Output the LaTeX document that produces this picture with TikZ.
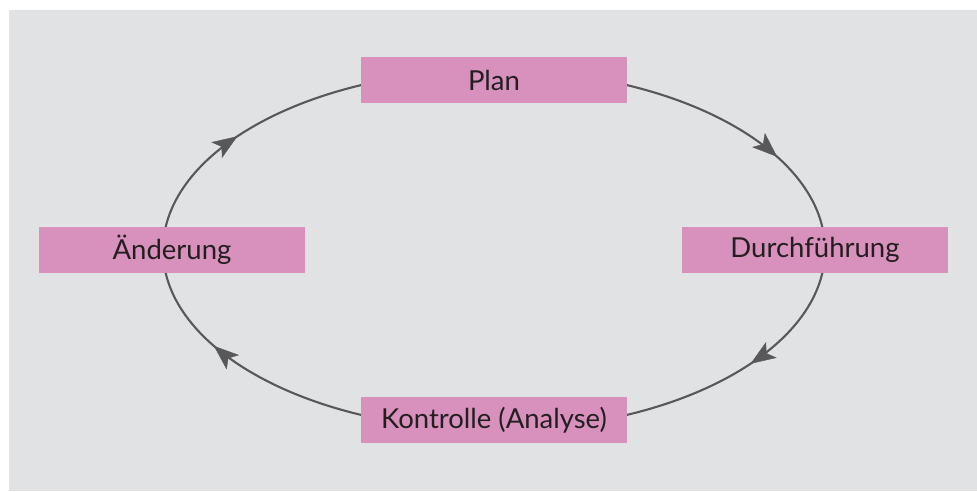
\documentclass[tikz,border=0pt]{standalone}
\usepackage{fontspec}
\setmainfont{Lato}
\usetikzlibrary{arrows.meta,decorations.markings,calc}
\definecolor{panel}{RGB}{225,226,227}
\definecolor{stagefill}{RGB}{216,144,188}
\definecolor{cycleline}{RGB}{88,88,90}
\definecolor{labeltext}{RGB}{35,31,32}
\tikzset{
  stage/.style={fill=stagefill, minimum width=266pt, minimum height=46pt,
    inner sep=0pt, font=\fontsize{27.5}{31}\selectfont, text=labeltext},
  cycle/.style={draw=cycleline, line width=2.1pt},
  midarrow/.style={postaction={decorate}, decoration={markings,
    mark=at position 0.5 with {\arrow[cycleline]{Stealth[length=25pt,width=19pt,inset=6pt]}}}}
}
\begin{document}
\begin{tikzpicture}[x=1pt,y=-1pt]
\useasboundingbox (0,0) rectangle (977,491);
\fill[panel] (9,10) rectangle (977,491);
% the cycle as a full ellipse, drawn below the boxes
\coordinate (c) at (494,250);
\draw[cycle] (c) ellipse [x radius=331, y radius=180];
\node[stage] (plan) at (494,80) {Plan};
\node[stage] (durch) at (815,250) {Durchführung};
\node[stage] (kontr) at (494,420) {Kontrolle (Analyse)};
\node[stage] (aend) at (172,250) {Änderung};
% arrowheads on the four quarter arcs, running clockwise
\foreach \ang in {39,148,219,329}{
  \path[midarrow] ($(c)+({331*cos(\ang-6)},{180*sin(\ang-6)})$)
     arc[start angle=\ang-6, end angle=\ang+6, x radius=331, y radius=180];
}
\end{tikzpicture}
\end{document}
